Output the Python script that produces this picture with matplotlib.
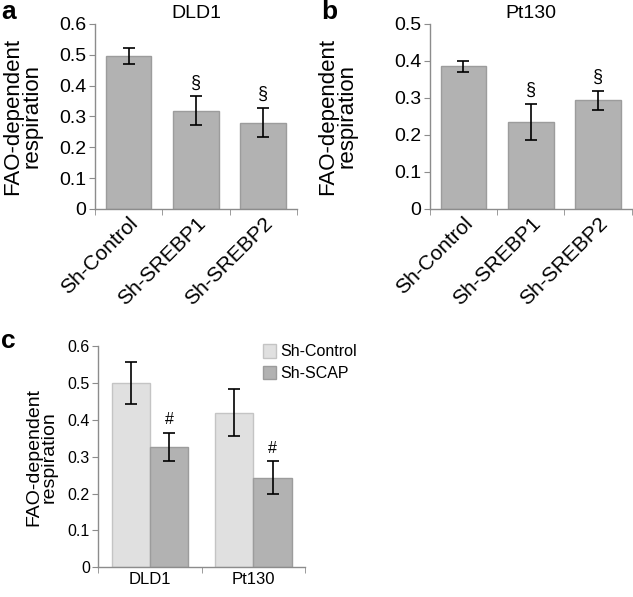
import numpy as np
import matplotlib
matplotlib.use('Agg')
import matplotlib.pyplot as plt

plt.rcParams['font.family'] = ['Liberation Sans', 'DejaVu Sans']

# panel a / b
groups = ['Sh-Control', 'Sh-SREBP1', 'Sh-SREBP2']
dld1 = [0.495, 0.318, 0.280]
dld1_err = [0.026, 0.047, 0.048]
pt130 = [0.385, 0.234, 0.293]
pt130_err = [0.016, 0.049, 0.025]
marks_ab = ['', '§', '§']

# panel c
cells = ['DLD1', 'Pt130']
c_control = [0.500, 0.420]
c_control_err = [0.056, 0.064]
c_scap = [0.327, 0.243]
c_scap_err = [0.038, 0.044]

bar_col = '#b2b2b2'
bar_edge = '#9c9c9c'
light_col = '#e0e0e0'
light_edge = '#c4c4c4'
axis_col = '#8c8c8c'

fig = plt.figure(figsize=(6.33, 5.97), dpi=100)


def style(ax, n, ymax, tick_fs, xfs, lab_fs):
    for s in ['top', 'right']:
        ax.spines[s].set_visible(False)
    for s in ['left', 'bottom']:
        ax.spines[s].set_color(axis_col)
        ax.spines[s].set_linewidth(1.0)
    ax.set_xlim(-0.5, n - 0.5)
    ax.set_ylim(0, ymax)
    ax.set_xticks(np.arange(-0.5, n, 1.0), minor=True)
    ax.tick_params(axis='x', which='major', length=0, labelsize=xfs)
    ax.tick_params(axis='x', which='minor', length=4, color=axis_col, direction='out')
    ax.tick_params(axis='y', length=4, color=axis_col, labelsize=tick_fs, pad=2)
    ax.set_ylabel('FAO-dependent\nrespiration', fontsize=lab_fs, linespacing=0.9)


def panel_ab(rect, vals, errs, title, ymax, letter, lx, labx):
    ax = fig.add_axes(rect)
    x = np.arange(len(groups))
    ax.bar(x, vals, width=0.68, color=bar_col, edgecolor=bar_edge, linewidth=1.0)
    ax.errorbar(x, vals, yerr=errs, fmt='none', ecolor='black', elinewidth=1.2,
                capsize=4, capthick=1.2)
    for xi, v, e, m in zip(x, vals, errs, marks_ab):
        if m:
            ax.text(xi, v + e + 0.015, m, ha='center', va='bottom', fontsize=13)
    style(ax, len(groups), ymax, 14, 15, 16)
    ax.set_yticks(np.arange(0, ymax + 0.001, 0.1))
    ax.set_yticklabels(['0'] + ['%.1f' % t for t in np.arange(0.1, ymax + 0.001, 0.1)])
    ax.set_xticks(x)
    ax.set_xticklabels(groups, rotation=45, ha='right', rotation_mode='anchor')
    ax.set_title(title, fontsize=14, pad=4)
    ax.yaxis.set_label_coords(labx, 0.5)
    fig.text(lx, 1.0, letter, fontsize=19, fontweight='bold', va='top')
    return ax


panel_ab([0.150, 0.650, 0.319, 0.310], dld1, dld1_err, 'DLD1', 0.6, 'a', 0.002, -0.262)
panel_ab([0.679, 0.650, 0.319, 0.310], pt130, pt130_err, 'Pt130', 0.5, 'b', 0.508, -0.358)

# panel c
ax = fig.add_axes([0.155, 0.050, 0.327, 0.370])
x = np.arange(len(cells))
w = 0.37
ax.bar(x - w / 2, c_control, width=w, color=light_col, edgecolor=light_edge,
       linewidth=1.0, label='Sh-Control')
ax.bar(x + w / 2, c_scap, width=w, color=bar_col, edgecolor=bar_edge,
       linewidth=1.0, label='Sh-SCAP')
ax.errorbar(x - w / 2, c_control, yerr=c_control_err, fmt='none', ecolor='black',
            elinewidth=1.2, capsize=4, capthick=1.2)
ax.errorbar(x + w / 2, c_scap, yerr=c_scap_err, fmt='none', ecolor='black',
            elinewidth=1.2, capsize=4, capthick=1.2)
for xi, v, e in zip(x + w / 2, c_scap, c_scap_err):
    ax.text(xi, v + e + 0.015, '#', ha='center', va='bottom', fontsize=11.5)
style(ax, len(cells), 0.6, 11.5, 12, 14)
ax.set_yticks(np.arange(0, 0.601, 0.1))
ax.set_yticklabels(['0', '0.1', '0.2', '0.3', '0.4', '0.5', '0.6'])
ax.set_xticks(x)
ax.set_xticklabels(cells)
ax.yaxis.set_label_coords(-0.195, 0.5)
ax.legend(loc='upper left', bbox_to_anchor=(0.765, 1.04), frameon=False,
          fontsize=11.5, handlelength=0.8, handleheight=0.95, handletextpad=0.3,
          labelspacing=0.4, borderaxespad=0)
fig.text(0.002, 0.449, 'c', fontsize=19, fontweight='bold', va='top')

fig.savefig('out.png', dpi=100)
